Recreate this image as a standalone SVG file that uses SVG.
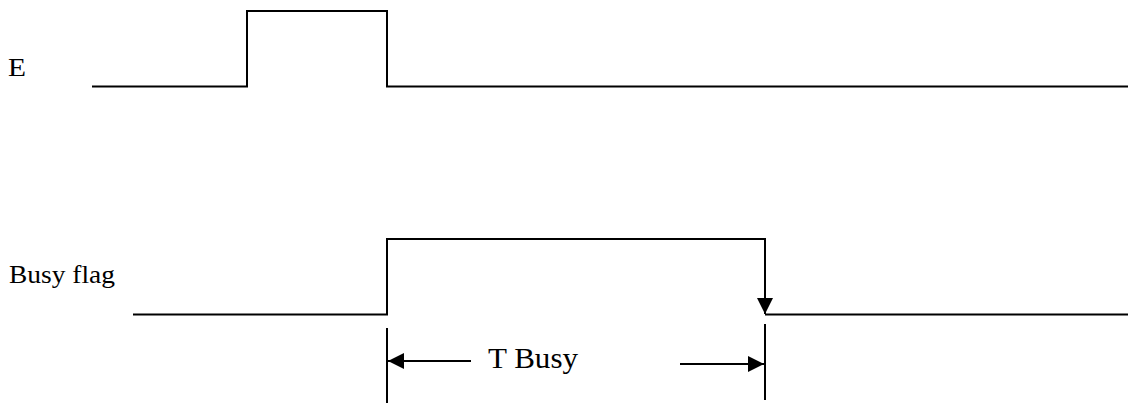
<svg xmlns="http://www.w3.org/2000/svg" width="1133" height="403" viewBox="0 0 1133 403">
<style>
.sig{fill:none;stroke:#000;stroke-width:2}
.lbl{font-family:"Liberation Serif","Times New Roman",serif;fill:#000}
</style>
<defs>
<marker id="ah" viewBox="0 0 16 16" refX="16" refY="8" markerWidth="16" markerHeight="16" markerUnits="userSpaceOnUse" orient="auto">
<path d="M0,0 L16,8 L0,16 Z" fill="#000"/>
</marker>
</defs>
<rect width="1133" height="403" fill="#fff"/>
<g id="label-E"><text class="lbl" x="8" y="76" font-size="25" textLength="18" lengthAdjust="spacingAndGlyphs">E</text></g>
<g id="label-busy"><text class="lbl" x="9" y="283" font-size="25" textLength="106" lengthAdjust="spacingAndGlyphs">Busy flag</text></g>
<g id="label-tbusy"><text class="lbl" x="488" y="368" font-size="30" textLength="90" lengthAdjust="spacingAndGlyphs">T Busy</text></g>
<g id="signal-E"><path class="sig" d="M92,86.5 H247 V11 H387 V86.5 H1128"/></g>
<g id="signal-busy"><path class="sig" d="M133,314.5 H387 V239 H765 V314" marker-end="url(#ah)"/><path class="sig" d="M765,314.5 H1128"/></g>
<g id="connectors">
<path class="sig" d="M387,328 V403"/>
<path class="sig" d="M765,324 V400"/>
<path class="sig" d="M471,361 H388" marker-end="url(#ah)"/>
<path class="sig" d="M680,364 H764" marker-end="url(#ah)"/>
</g>
</svg>
